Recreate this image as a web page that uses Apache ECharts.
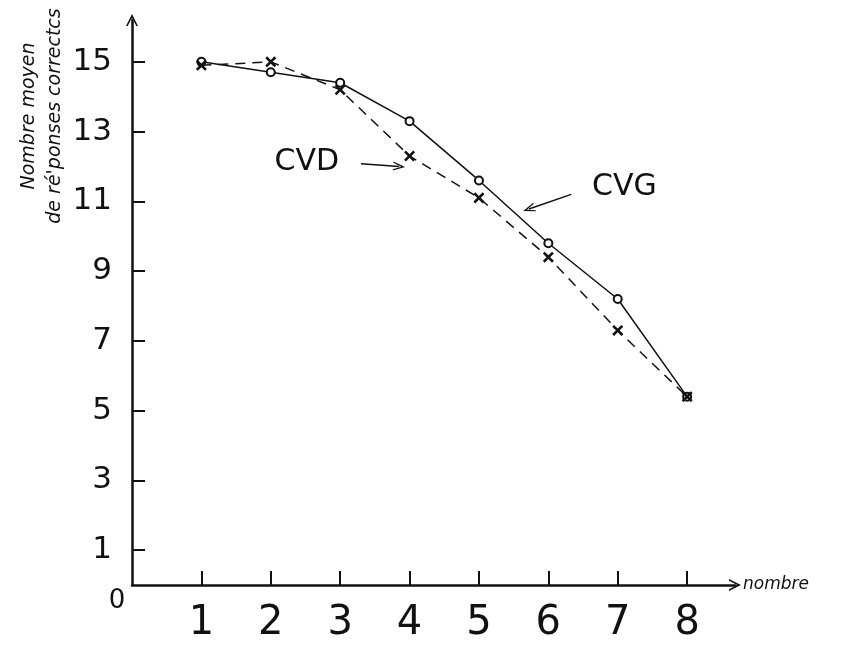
<!DOCTYPE html>
<html>
<head>
<meta charset="utf-8">
<script src="https://cdn.jsdelivr.net/npm/echarts@6/dist/echarts.min.js"></script>
<style>
html, body { margin: 0; background: #fff; }
#chart { width: 859px; height: 652px; }
</style>
</head>
<body>
<div id="chart"></div>
<script>
// nombre d'items (axe horizontal)
const nombres = [1, 2, 3, 4, 5, 6, 7, 8];
// CVG : ronds, trait plein
const cvg = [15.0, 14.7, 14.4, 13.3, 11.6, 9.8, 8.2, 5.4];
// CVD : croix, tirets
const cvd = [14.9, 15.0, 14.2, 12.3, 11.1, 9.4, 7.3, 5.4];
// graduations
const yTicks = [1, 3, 5, 7, 9, 11, 13, 15];
const xLabels = [0, 1, 2, 3, 4, 5, 6, 7, 8];
const xTicks = [1, 2, 3, 4, 5, 6, 7, 8];

const ink = '#111';
const font = 'DejaVu Sans';
// open arrow head (points "up", rotated by echarts)
const openArrow = 'path://M0,10L5,0L10,10L8.6,10L5,3.2L1.4,10Z';
// thick X
const cross = 'path://M4,0L6,0L6,4L10,4L10,6L6,6L6,10L4,10L4,6L0,6L0,4L4,4Z';

const chart = echarts.init(document.getElementById('chart'), null, {renderer: 'canvas'});

const option = {
    backgroundColor: '#fff',
    animation: false,
    grid: {left: 132, top: 20, width: 603, height: 565},
    xAxis: {
        type: 'value',
        min: 0,
        max: 8.69,
        name: 'nombre',
        nameLocation: 'end',
        nameGap: 8,
        nameTextStyle: {fontFamily: font, fontSize: 17, fontStyle: 'italic', color: ink, padding: [0, 0, 6, 0]},
        axisLine: {
            show: true,
            lineStyle: {color: ink, width: 2.5},
            symbol: ['none', openArrow],
            symbolSize: [12, 16]
        },
        axisTick: {show: true, inside: true, length: 14, lineStyle: {color: ink, width: 2}, customValues: xTicks},
        splitLine: {show: false},
        axisLabel: {
            customValues: xLabels,
            margin: 3,
            color: ink,
            fontFamily: font,
            formatter: function (v) {
                return v === 0 ? '{z|0}' : '{n|' + v + '}';
            },
            rich: {
                z: {fontFamily: font, fontSize: 26, color: ink, padding: [0, 30, 0, 0]},
                n: {fontFamily: font, fontSize: 40, color: ink, padding: [16, 0, 0, 0]}
            }
        }
    },
    yAxis: {
        type: 'value',
        min: 0,
        max: 16.2,
        axisLine: {
            show: true,
            lineStyle: {color: ink, width: 2.5},
            symbol: ['none', openArrow],
            symbolSize: [12, 16]
        },
        axisTick: {show: true, inside: true, length: 13, lineStyle: {color: ink, width: 2}, customValues: yTicks},
        splitLine: {show: false},
        axisLabel: {
            customValues: yTicks,
            margin: 20,
            color: ink,
            fontFamily: font,
            fontSize: 31
        }
    },
    graphic: [{
        type: 'text',
        x: 42,
        y: 116,
        rotation: Math.PI / 2,
        style: {
            text: 'Nombre moyen\nde ré\'ponses correctcs',
            fontFamily: font,
            fontSize: 19,
            fontStyle: 'italic',
            lineHeight: 26,
            fill: ink,
            align: 'center',
            verticalAlign: 'middle'
        }
    }],
    series: [
        {
            name: 'CVG',
            type: 'line',
            data: nombres.map((n, i) => [n, cvg[i]]),
            symbol: 'emptyCircle',
            symbolSize: 8,
            itemStyle: {color: ink, borderColor: ink, borderWidth: 2},
            lineStyle: {color: ink, width: 1.5, type: 'solid'},
            z: 3,
            markLine: {
                silent: true,
                symbol: ['none', openArrow],
                symbolSize: [9, 12],
                lineStyle: {color: ink, width: 1.5, type: 'solid'},
                label: {
                    show: true,
                    position: 'start',
                    distance: 22,
                    formatter: 'CVG',
                    fontFamily: font,
                    fontSize: 30,
                    color: ink,
                    padding: [16, 0, 0, 0]
                },
                data: [[{coord: [6.33, 11.2]}, {coord: [5.72, 10.78]}]]
            }
        },
        {
            name: 'CVD',
            type: 'line',
            data: nombres.map((n, i) => [n, cvd[i]]),
            symbol: cross,
            symbolSize: 13,
            symbolRotate: 45,
            itemStyle: {color: ink, borderWidth: 0},
            lineStyle: {color: ink, width: 1.5, type: [10, 7]},
            z: 4,
            markLine: {
                silent: true,
                symbol: ['none', openArrow],
                symbolSize: [9, 12],
                lineStyle: {color: ink, width: 1.5, type: 'solid'},
                label: {
                    show: true,
                    position: 'start',
                    distance: 22,
                    formatter: 'CVD',
                    fontFamily: font,
                    fontSize: 30,
                    color: ink
                },
                data: [[{coord: [3.3, 12.08]}, {coord: [3.85, 12.0]}]]
            }
        }
    ]
};

chart.setOption(option);
</script>
</body>
</html>
